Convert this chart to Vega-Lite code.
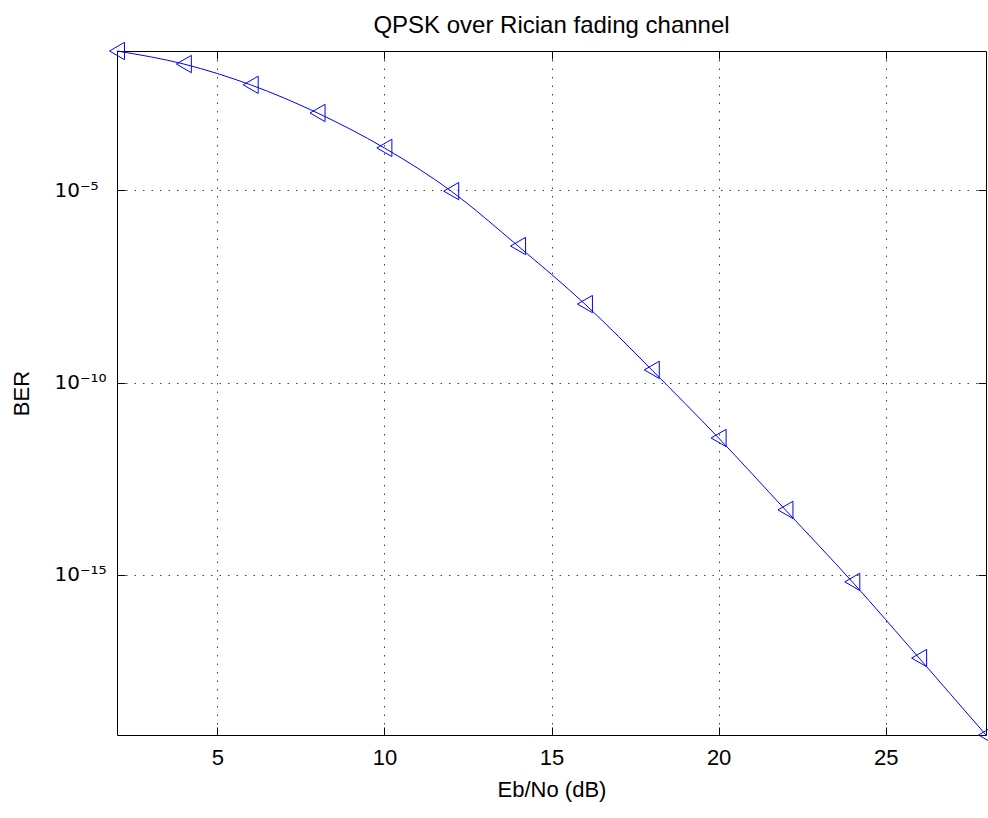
{
  "$schema": "https://vega.github.io/schema/vega-lite/v6.json",
  "width": 869,
  "height": 684,
  "autosize": "none",
  "padding": {"left": 117, "top": 51, "right": 2, "bottom": 83},
  "background": "white",
  "title": {
    "text": "QPSK over Rician fading channel",
    "font": "Liberation Sans",
    "fontSize": 24,
    "fontWeight": "normal",
    "color": "#000000",
    "baseline": "bottom",
    "offset": -22
  },
  "data": {
    "values": [
      {"ebno": 2, "ber": 0.0417},
      {"ebno": 4, "ber": 0.0191},
      {"ebno": 6, "ber": 0.0055},
      {"ebno": 8, "ber": 0.00102},
      {"ebno": 10, "ber": 0.000126},
      {"ebno": 12, "ber": 9.5e-6},
      {"ebno": 14, "ber": 3.55e-7},
      {"ebno": 16, "ber": 1.10e-8},
      {"ebno": 18, "ber": 2.14e-10},
      {"ebno": 20, "ber": 3.63e-12},
      {"ebno": 22, "ber": 4.9e-14},
      {"ebno": 24, "ber": 6.6e-16},
      {"ebno": 26, "ber": 6.9e-18},
      {"ebno": 28, "ber": 6.9e-20}
    ]
  },
  "config": {
    "view": {"stroke": "#000000", "strokeWidth": 1},
    "axis": {
      "labelFont": "Liberation Sans",
      "titleFont": "Liberation Sans",
      "labelFontSize": 22,
      "titleFontSize": 22,
      "titleFontWeight": "normal",
      "labelColor": "#000000",
      "titleColor": "#000000",
      "tickColor": "#000000",
      "domain": false,
      "tickSize": -8,
      "tickWidth": 1,
      "gridColor": "#000000",
      "gridOpacity": 0.75,
      "gridDash": [1.5, 7],
      "gridWidth": 1
    }
  },
  "resolve": {"axis": {"x": "independent", "y": "independent"}},
  "layer": [
    {
      "mark": {"type": "line", "color": "#0000ff", "strokeWidth": 1, "interpolate": "monotone", "clip": false},
      "encoding": {
        "x": {
          "field": "ebno", "type": "quantitative",
          "scale": {"domain": [2, 28], "nice": false, "zero": false},
          "axis": {
            "orient": "bottom", "values": [5, 10, 15, 20, 25], "grid": true,
            "title": "Eb/No (dB)", "labelPadding": 20, "titlePadding": 11
          }
        },
        "y": {
          "field": "ber", "type": "quantitative",
          "scale": {"type": "log", "domain": [6.9e-20, 0.0417], "nice": false},
          "axis": {
            "orient": "left", "values": [1e-15, 1e-10, 1e-5], "grid": true,
            "labelExpr": "datum.value < 5e-15 ? '10⁻¹⁵' : datum.value < 5e-10 ? '10⁻¹⁰' : '10⁻⁵'",
            "labelFont": "DejaVu Sans", "labelFontSize": 20,
            "labelAlign": "left", "labelBaseline": "middle",
            "title": "BER", "labelPadding": 71, "titlePadding": 21
          }
        }
      }
    },
    {
      "mark": {"type": "point", "shape": "triangle-left", "filled": false, "stroke": "#0000ff", "color": "#0000ff", "size": 300, "strokeWidth": 1, "opacity": 1},
      "encoding": {
        "x": {
          "field": "ebno", "type": "quantitative",
          "axis": {"orient": "top", "values": [5, 10, 15, 20, 25], "grid": false, "labels": false, "title": null, "minExtent": 0, "maxExtent": 0}
        },
        "y": {
          "field": "ber", "type": "quantitative",
          "axis": {"orient": "right", "values": [1e-15, 1e-10, 1e-5], "grid": false, "labels": false, "title": null, "minExtent": 0, "maxExtent": 0}
        }
      }
    }
  ]
}
